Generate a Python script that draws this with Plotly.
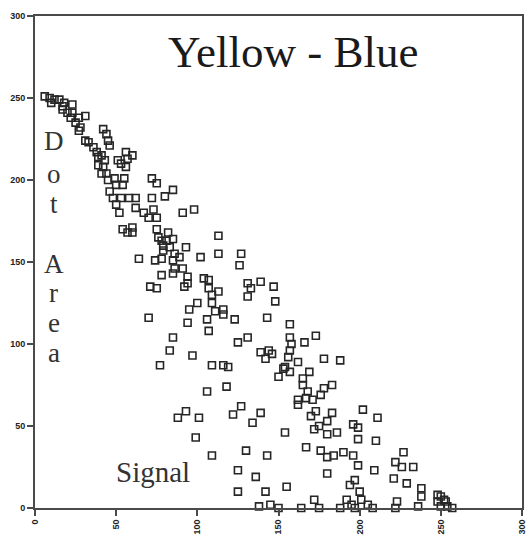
import plotly.graph_objects as go

# Signal (x) and Dot Area (y) values
signal = [
    6, 9, 10, 12, 15, 17, 18, 17, 20, 23,
    23, 27, 31, 22, 25, 28, 27, 42, 44, 45,
    46, 31, 33, 36, 38, 39, 41, 43, 39, 42,
    51, 53, 56, 57, 60, 56, 41, 44, 45, 49,
    55, 54, 50, 72, 75, 46, 48, 53, 58, 62,
    72, 80, 50, 52, 62, 67, 73, 85, 70, 75,
    54, 60, 60, 57, 75, 76, 78, 82, 85, 81,
    79, 83, 93, 79, 113, 113, 102, 64, 74, 78,
    85, 89, 78, 85, 86, 91, 94, 104, 107, 91,
    98, 86, 127, 126, 71, 75, 94, 92, 70, 107,
    113, 109, 109, 100, 95, 94, 106, 111, 116, 116,
    107, 123, 131, 133, 139, 147, 131, 148, 143, 157,
    125, 131, 157, 158, 166, 173, 97, 139, 144, 146,
    157, 156, 178, 188, 85, 83, 142, 162, 154, 157,
    150, 169, 165, 109, 116, 119, 118, 106, 93, 101,
    99, 122, 127, 139, 134, 109, 130, 143, 125, 136,
    125, 142, 155, 138, 145, 150, 154, 167, 153, 165,
    168, 178, 183, 176, 167, 171, 162, 162, 173, 170,
    183, 180, 175, 172, 180, 186, 196, 199, 199, 202,
    176, 180, 184, 190, 196, 199, 180, 197, 172, 192,
    195, 164, 175, 188, 197, 201, 200, 205, 208, 194,
    211, 210, 209, 227, 222, 226, 233, 221, 229, 238,
    238, 236, 223, 222, 248, 250, 252, 248, 253, 254,
    257, 250, 77, 88,
]
dot_area = [
    251, 250, 247, 249, 249, 245, 247, 243, 241, 246,
    241, 238, 239, 238, 235, 232, 230, 231, 228, 224,
    221, 224, 223, 220, 217, 214, 215, 212, 209, 208,
    212, 210, 217, 213, 215, 208, 204, 204, 200, 201,
    201, 197, 197, 201, 198, 193, 189, 189, 189, 189,
    189, 190, 185, 180, 183, 180, 182, 194, 177, 177,
    170, 171, 168, 168, 170, 165, 163, 168, 164, 163,
    160, 159, 159, 157, 166, 155, 153, 152, 151, 152,
    151, 153, 142, 143, 146, 146, 141, 140, 139, 180,
    182, 155, 155, 148, 135, 134, 137, 135, 116, 134,
    132, 130, 125, 125, 121, 113, 115, 120, 121, 118,
    108, 115, 137, 134, 138, 135, 129, 126, 116, 112,
    101, 104, 104, 100, 101, 105, 93, 95, 96, 94,
    96, 92, 91, 90, 104, 96, 91, 89, 86, 83,
    80, 83, 79, 87, 87, 86, 74, 71, 59, 55,
    43, 57, 62, 58, 52, 32, 35, 32, 23, 19,
    10, 10, 13, 1, 2, 0, 46, 37, 85, 75,
    71, 73, 75, 69, 67, 66, 66, 63, 59, 56,
    58, 53, 50, 48, 45, 46, 51, 49, 42, 60,
    35, 31, 32, 34, 32, 26, 21, 17, 5, 5,
    2, 0, 0, 0, 0, 5, 10, 2, 0, 14,
    55, 41, 23, 34, 28, 25, 25, 18, 15, 12,
    7, 1, 4, 0, 8, 7, 5, 4, 4, 1,
    0, 1, 87, 55,
]

tick_vals = [0, 50, 100, 150, 200, 250, 300]
tick_text = ["0", "50", "100", "150", "200", "250", "300"]

title_text = "Yellow - Blue"
y_label_letters = ["D", "o", "t", "A", "r", "e", "a"]
y_label_pos = [0.746, 0.679, 0.618, 0.496, 0.437, 0.376, 0.315]
x_label_text = "Signal"

fig = go.Figure()
fig.add_trace(go.Scatter(
    x=signal, y=dot_area, mode="markers",
    marker=dict(symbol="square-open", size=7, color="#262626",
                line=dict(width=1.6, color="#262626")),
    cliponaxis=False, showlegend=False, hoverinfo="x+y",
))

serif = "Liberation Serif, Times New Roman, serif"
ann = [dict(text=title_text, x=0.529, y=0.927, xref="paper", yref="paper",
            showarrow=False, xanchor="center", yanchor="middle",
            font=dict(family=serif, size=45, color="#1a1a1a"))]
for ch, yp in zip(y_label_letters, y_label_pos):
    ann.append(dict(text=ch, x=0.039, y=yp, xref="paper", yref="paper",
                    showarrow=False, xanchor="center", yanchor="middle",
                    font=dict(family=serif, size=27, color="#333333")))
ann.append(dict(text=x_label_text, x=0.243, y=0.073, xref="paper", yref="paper",
                showarrow=False, xanchor="center", yanchor="middle",
                font=dict(family=serif, size=29, color="#333333")))

axis_common = dict(
    range=[0, 300], showgrid=False, zeroline=False, automargin=False,
    showline=True, linecolor="#4a4a4a", linewidth=2, mirror=True,
    ticks="outside", ticklen=6, tickwidth=1.5, tickcolor="#4a4a4a",
    tickvals=tick_vals, ticktext=tick_text,
    tickfont=dict(family="Liberation Sans, Arial, sans-serif", size=9,
                  color="#222222", weight="bold"),
)

fig.update_layout(
    width=529, height=539,
    margin=dict(l=35, r=7, t=16, b=31),
    paper_bgcolor="white", plot_bgcolor="white",
    xaxis=dict(**axis_common, tickangle=-90),
    yaxis=dict(**axis_common),
    annotations=ann,
)

fig.write_html(
    "out.html",
    config={"displayModeBar": False},
    post_script="document.body.style.margin='0';document.body.style.overflow='hidden';",
)
